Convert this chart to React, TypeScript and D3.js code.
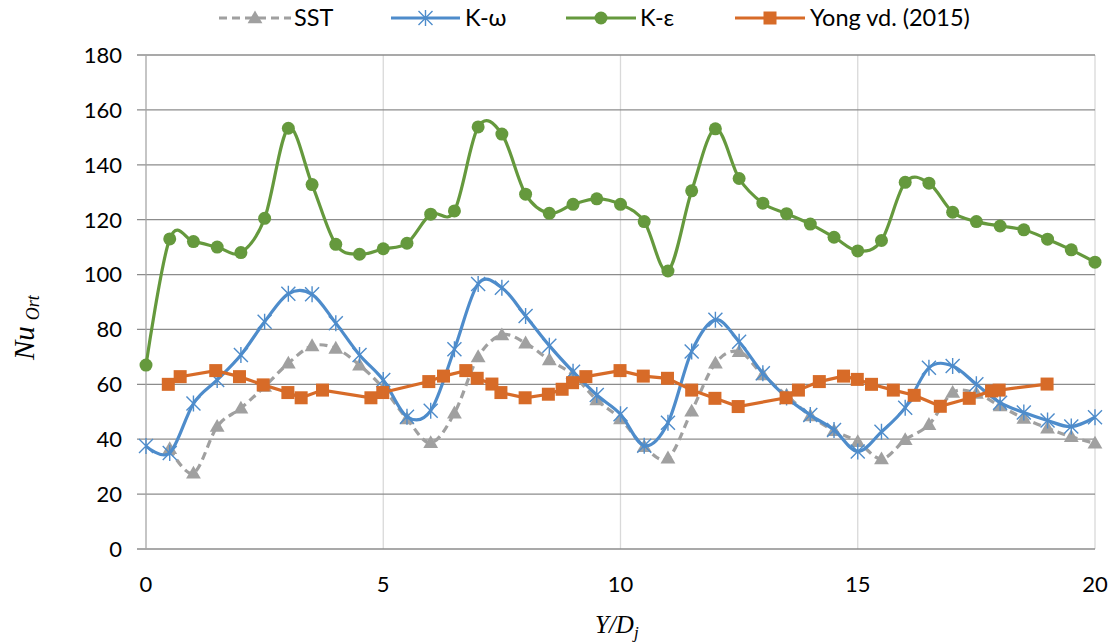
import React from "react";
import * as d3 from "d3";

// Nusselt number along Y/Dj for three turbulence models and reference data
const gridX = [
  0, 0.5, 1, 1.5, 2, 2.5, 3, 3.5, 4, 4.5, 5, 5.5, 6, 6.5, 7, 7.5, 8, 8.5, 9, 9.5, 10,
  10.5, 11, 11.5, 12, 12.5, 13, 13.5, 14, 14.5, 15, 15.5, 16, 16.5, 17, 17.5, 18, 18.5, 19, 19.5, 20,
];

const kEpsilon = [
  67, 113, 112, 110, 108, 120.5, 153.3, 132.8, 111, 107.4, 109.4, 111.4, 122, 123.2, 153.8, 151.2,
  129.3, 122.3, 125.6, 127.6, 125.6, 119.3, 101.3, 130.5, 153.1, 135, 126, 122.2, 118.4, 113.6,
  108.6, 112.4, 133.6, 133.3, 122.7, 119.3, 117.7, 116.3, 112.9, 109, 104.5,
];

const kOmega = [
  37.5, 35, 53, 61.6, 70.7, 82.8, 93, 92.8, 82.3, 70.7, 61.6, 48.2, 50.4, 72.8, 96.6, 95.2, 84.9,
  74.1, 64.6, 56.1, 49.1, 37.6, 46, 72, 83.5, 75.5, 64, 55.2, 48.8, 43.4, 35.5, 42.7, 51.5, 66,
  66.7, 60, 53.3, 49.7, 46.8, 44.6, 48,
];

const sstX = [
  0.5, 1, 1.5, 2, 2.5, 3, 3.5, 4, 4.5, 5, 5.5, 6, 6.5, 7, 7.5, 8, 8.5, 9, 9.5, 10,
  10.5, 11, 11.5, 12, 12.5, 13, 13.5, 14, 14.5, 15, 15.5, 16, 16.5, 17, 17.5, 18, 18.5, 19, 19.5, 20,
];
const sst = [
  36.5, 27.6, 44.6, 51.3, 59.2, 67.7, 74, 73.1, 67, 58.6, 47.4, 38.7, 49.5, 70, 78, 75, 68.9, 63.4,
  54.3, 47.4, 37.3, 33.1, 50.2, 67.7, 71.9, 63.4, 56, 48.5, 43.1, 39.1, 32.8, 39.8, 45.3, 57,
  56.7, 52.1, 47.6, 44, 40.9, 38.5,
];

const yongX = [
  0.47, 0.72, 1.47, 1.97, 2.47, 2.99, 3.27, 3.72, 4.74, 4.99, 5.96, 6.27, 6.74, 6.98, 7.29, 7.48,
  7.99, 8.48, 8.77, 8.99, 9.27, 9.99, 10.48, 10.99, 11.5, 11.99, 12.48, 13.49, 13.75, 14.19,
  14.7, 14.99, 15.29, 15.75, 16.19, 16.74, 17.35, 17.82, 17.98, 18.99,
];
const yong = [
  60, 62.8, 65, 62.8, 59.8, 57, 55.1, 57.9, 55.1, 57, 61, 63, 65, 62.2, 60.1, 57, 55.1, 56.4, 58.2,
  60.6, 62.8, 65, 63, 62.2, 57.9, 54.9, 51.9, 55.1, 57.9, 61, 63, 61.8, 60, 57.9, 56, 52, 54.9,
  57.6, 57.9, 60.1,
];

const xTicks = [0, 5, 10, 15, 20];
const yTicks = [0, 20, 40, 60, 80, 100, 120, 140, 160, 180];

const seriesNames = ["SST", "K-ω", "K-ε", "Yong vd. (2015)"];

const W = 1119;
const H = 644;
const plot = { left: 146, right: 1095, top: 55, bottom: 549 };

const C_GRAY = "#a0a0a0";
const C_BLUE = "#4e8ccb";
const C_GREEN = "#65993d";
const C_ORANGE = "#d76b28";

const tickFont = "Lato, 'Open Sans', sans-serif";
const titleFont = "'Liberation Serif', 'DejaVu Serif', serif";

const x = d3.scaleLinear().domain([0, 20]).range([plot.left, plot.right]);
const y = d3.scaleLinear().domain([0, 180]).range([plot.bottom, plot.top]);

const smooth = d3.curveCardinal.tension(0);

type Pt = [number, number];
const zip = (xs: number[], ys: number[]): Pt[] => xs.map((v, i) => [v, ys[i]]);

const lineSmooth = d3
  .line<Pt>()
  .x((d) => x(d[0]))
  .y((d) => y(d[1]))
  .curve(smooth);
const lineStraight = d3
  .line<Pt>()
  .x((d) => x(d[0]))
  .y((d) => y(d[1]));

const triPath = d3.symbol(d3.symbolTriangle, 95)()!;

function Triangle({ cx, cy }: { cx: number; cy: number }) {
  return <path d={triPath} transform={`translate(${cx},${cy + 1})`} fill={C_GRAY} />;
}
function Star({ cx, cy }: { cx: number; cy: number }) {
  const r = 7;
  return (
    <path
      d={`M${cx - r},${cy - r}L${cx + r},${cy + r}M${cx - r},${cy + r}L${cx + r},${cy - r}M${cx},${cy - r - 1}L${cx},${cy + r + 1}`}
      stroke={C_BLUE}
      strokeWidth={1.4}
      fill="none"
    />
  );
}
function Dot({ cx, cy }: { cx: number; cy: number }) {
  return <circle cx={cx} cy={cy} r={6.5} fill={C_GREEN} />;
}
function Square({ cx, cy }: { cx: number; cy: number }) {
  const s = 13;
  return <rect x={cx - s / 2} y={cy - s / 2} width={s} height={s} fill={C_ORANGE} />;
}

export default function App() {
  const sstPts = zip(sstX, sst);
  const omegaPts = zip(gridX, kOmega);
  const epsPts = zip(gridX, kEpsilon);
  const yongPts = zip(yongX, yong);

  const legendY = 18;
  const legend = [
    { x0: 219, x1: 291, tx: 294, name: seriesNames[0], color: C_GRAY, dash: "8,5", M: Triangle },
    { x0: 391, x1: 460, tx: 465, name: seriesNames[1], color: C_BLUE, dash: undefined, M: Star },
    { x0: 566, x1: 636, tx: 640, name: seriesNames[2], color: C_GREEN, dash: undefined, M: Dot },
    { x0: 735, x1: 805, tx: 810, name: seriesNames[3], color: C_ORANGE, dash: undefined, M: Square },
  ];

  return (
    <div style={{ position: "absolute", left: 0, top: 0 }}>
      <svg width={W} height={H} style={{ display: "block", background: "#fff" }}>
        {/* vertical gridlines */}
        {xTicks
          .filter((t) => t > 0)
          .map((t) => (
            <line key={`vx${t}`} x1={x(t)} x2={x(t)} y1={plot.top} y2={plot.bottom} stroke="#d9d9d9" strokeWidth={1.3} />
          ))}
        {/* horizontal gridlines */}
        {yTicks.map((t) => (
          <line key={`hy${t}`} x1={plot.left - 9} x2={plot.right} y1={y(t)} y2={y(t)} stroke="#8c8c8c" strokeWidth={1.3} />
        ))}
        {/* left axis */}
        <line x1={plot.left} x2={plot.left} y1={plot.top} y2={plot.bottom} stroke="#a6a6a6" strokeWidth={1.3} />

        {/* y tick labels */}
        {yTicks.map((t) => (
          <text key={`yl${t}`} x={122} y={y(t)} dy="0.36em" textAnchor="end" fontFamily={tickFont} fontSize={22} fill="#000">
            {t}
          </text>
        ))}
        {/* x tick labels */}
        {xTicks.map((t) => (
          <text key={`xl${t}`} x={x(t)} y={592} textAnchor="middle" fontFamily={tickFont} fontSize={22} fill="#000">
            {t}
          </text>
        ))}

        {/* series lines */}
        <path d={lineSmooth(sstPts)!} fill="none" stroke={C_GRAY} strokeWidth={3.2} strokeDasharray="8,5" />
        {sstPts.map((p, i) => (
          <Triangle key={`st${i}`} cx={x(p[0])} cy={y(p[1])} />
        ))}
        <path d={lineSmooth(omegaPts)!} fill="none" stroke={C_BLUE} strokeWidth={3.2} />
        {omegaPts.map((p, i) => (
          <Star key={`om${i}`} cx={x(p[0])} cy={y(p[1])} />
        ))}
        <path d={lineSmooth(epsPts)!} fill="none" stroke={C_GREEN} strokeWidth={3.2} />
        {epsPts.map((p, i) => (
          <Dot key={`ep${i}`} cx={x(p[0])} cy={y(p[1])} />
        ))}
        <path d={lineStraight(yongPts)!} fill="none" stroke={C_ORANGE} strokeWidth={3.2} />
        {yongPts.map((p, i) => (
          <Square key={`yo${i}`} cx={x(p[0])} cy={y(p[1])} />
        ))}

        {/* legend */}
        {legend.map((l) => (
          <g key={l.name}>
            <line x1={l.x0} x2={l.x1} y1={legendY} y2={legendY} stroke={l.color} strokeWidth={3.2} strokeDasharray={l.dash} />
            <l.M cx={(l.x0 + l.x1) / 2} cy={legendY} />
            <text x={l.tx} y={legendY} dy="0.36em" fontFamily={tickFont} fontSize={23.5} fill="#000">
              {l.name}
            </text>
          </g>
        ))}

        {/* axis titles */}
        <text x={595} y={633} fontFamily={titleFont} fontStyle="italic" fontSize={25} fill="#000">
          Y/D
          <tspan fontSize={17} dy={5}>j</tspan>
        </text>
        <text transform="translate(34,360) rotate(-90)" fontFamily={titleFont} fontStyle="italic" fontSize={29} fill="#000">
          Nu
          <tspan fontSize={18} dx={6} dy={5}>Ort</tspan>
        </text>
      </svg>
    </div>
  );
}
